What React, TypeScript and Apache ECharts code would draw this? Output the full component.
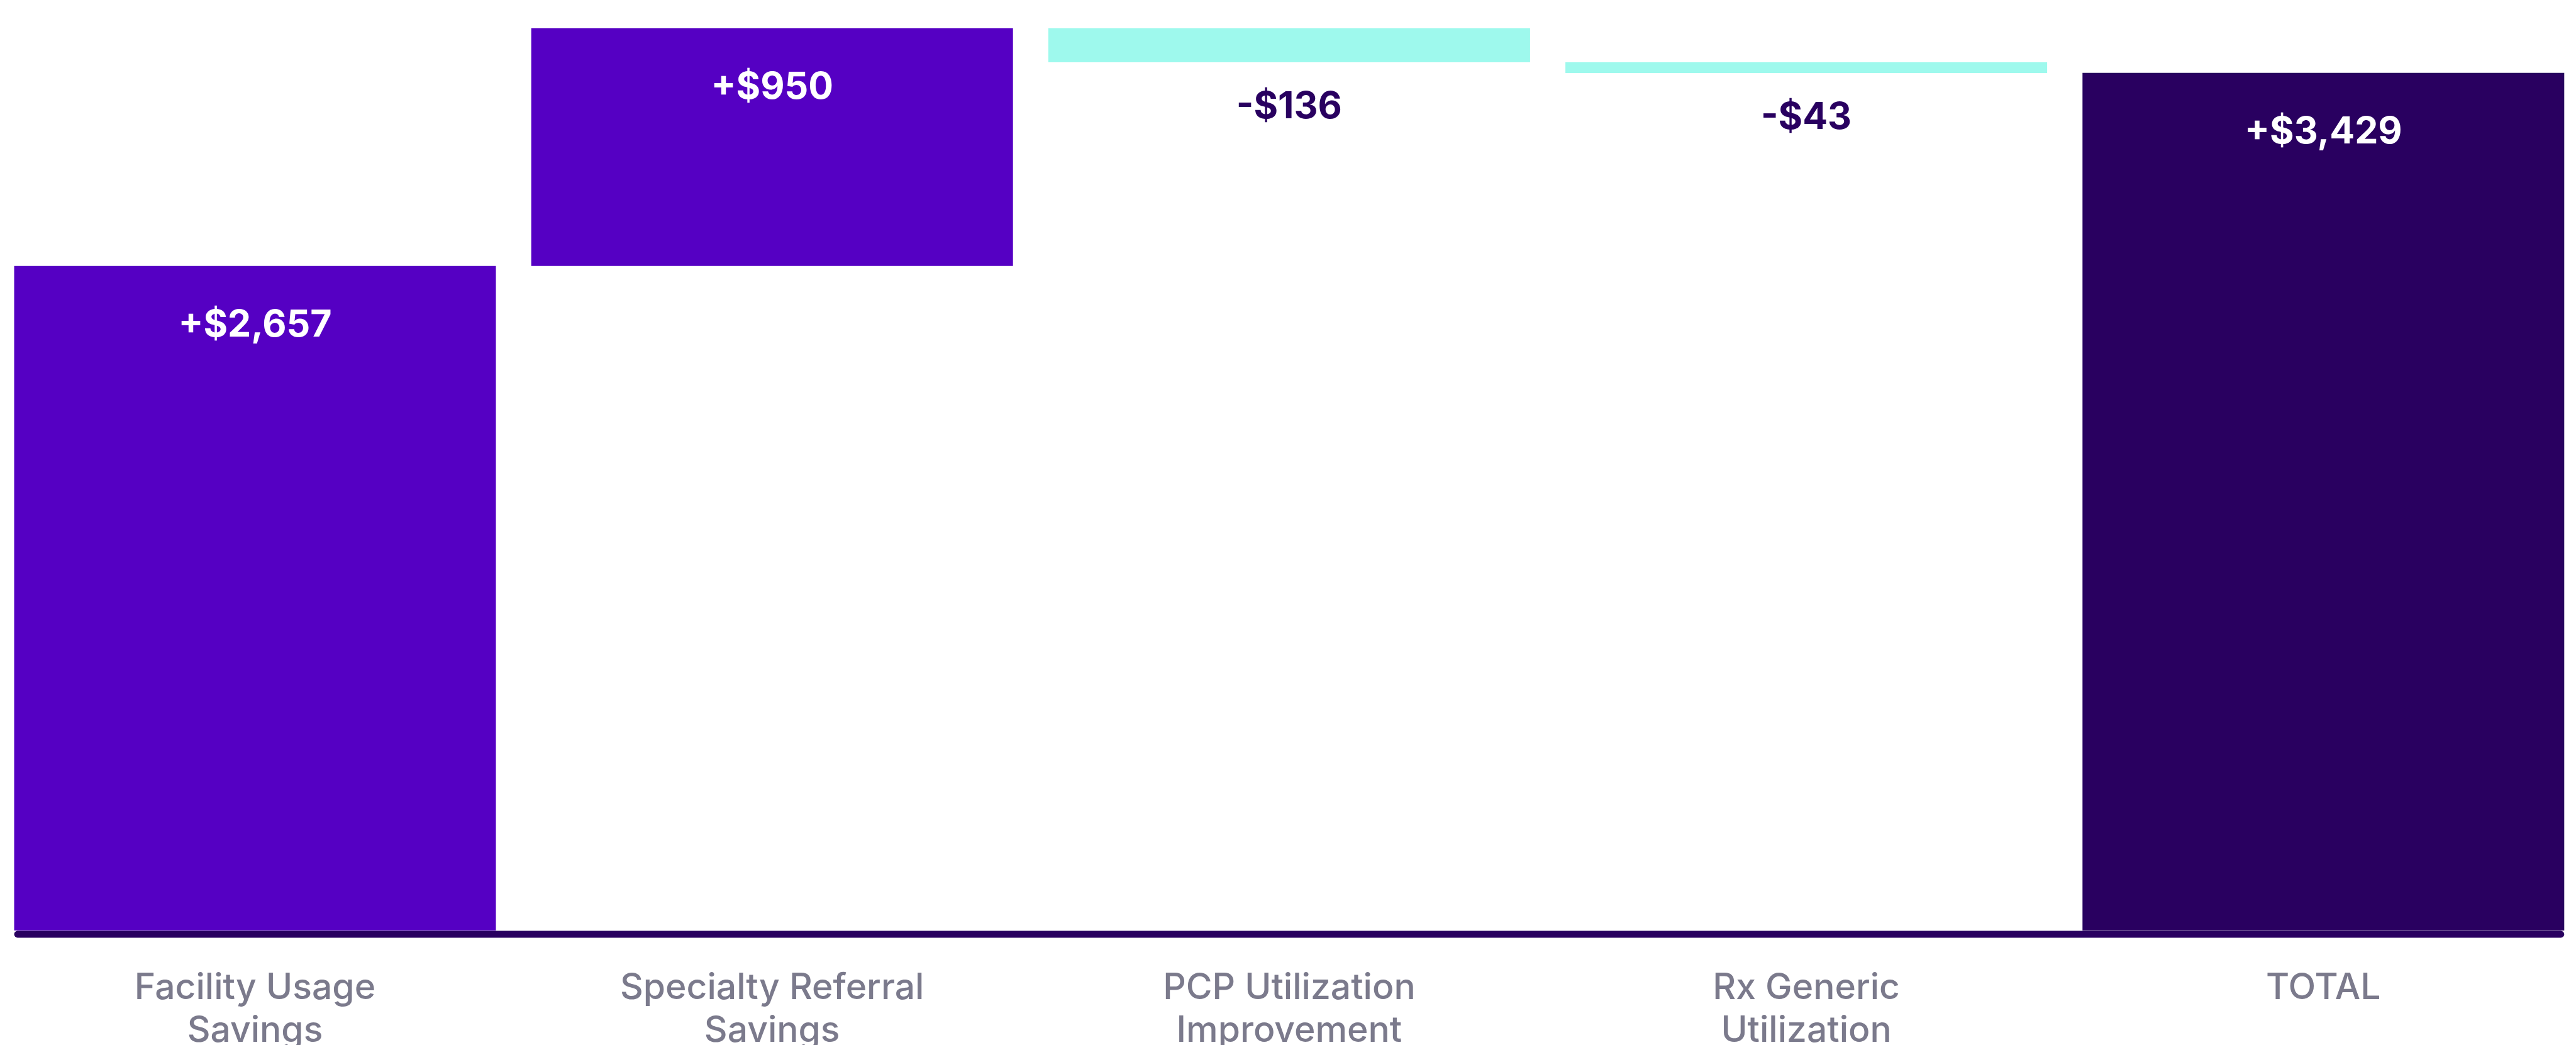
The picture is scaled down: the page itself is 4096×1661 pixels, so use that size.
import React, { useEffect, useRef } from "react";
import * as echarts from "echarts";

const categories = [
  "Facility Usage\nSavings",
  "Specialty Referral\nSavings",
  "PCP Utilization\nImprovement",
  "Rx Generic\nUtilization",
  "TOTAL",
];
const changes = [2657, 950, -136, -43];
const totalValue = 3429;
const yMax = 3720;

const COLOR_UP = "#5500C3";
const COLOR_DOWN = "#9EF9ED";
const COLOR_TOTAL = "#290060";
const COLOR_DARK_TEXT = "#290060";
const COLOR_AXIS_TEXT = "#7B7A8C";

const W = 4096;
const H = 1661;
const BAR_WIDTH = 766;

const fmt = (v: number) =>
  (v >= 0 ? "+" : "-") + "$" + Math.abs(v).toLocaleString("en-US");

export default function App() {
  const ref = useRef<HTMLDivElement>(null);
  useEffect(() => {
    document.body.style.margin = "0";
    const chart = echarts.init(ref.current!, undefined, { renderer: "svg" });

    const base: number[] = [];
    const heights: number[] = [];
    const signed: number[] = [];
    let running = 0;
    changes.forEach((v) => {
      if (v >= 0) {
        base.push(running);
        heights.push(v);
        running += v;
      } else {
        running += v;
        base.push(running);
        heights.push(-v);
      }
      signed.push(v);
    });
    base.push(0);
    heights.push(totalValue);
    signed.push(totalValue);

    const valueData = heights.map((h, i) => {
      const isTotal = i === heights.length - 1;
      const v = signed[i];
      const neg = v < 0;
      return {
        value: h,
        itemStyle: { color: isTotal ? COLOR_TOTAL : neg ? COLOR_DOWN : COLOR_UP },
        label: {
          show: true,
          position: neg ? "bottom" : "insideTop",
          distance: neg ? 38 : 61,
          color: neg ? COLOR_DARK_TEXT : "#FFFFFF",
          formatter: fmt(v),
          fontFamily: "Inter",
          fontWeight: 700,
          fontSize: 59,
          lineHeight: 59,
        },
      };
    });

    chart.setOption({
      animation: false,
      grid: {
        left: -5.6,
        right: -9.4,
        top: 0,
        bottom: 182,
        containLabel: false,
        outerBoundsMode: "none",
      },
      xAxis: {
        type: "category",
        data: categories,
        axisLine: { show: false },
        axisTick: { show: false },
        axisLabel: {
          margin: 54,
          color: COLOR_AXIS_TEXT,
          fontFamily: "Inter",
          fontWeight: 500,
          fontSize: 57,
          lineHeight: 68,
          interval: 0,
        },
      },
      yAxis: {
        type: "value",
        min: 0,
        max: yMax,
        show: false,
        splitLine: { show: false },
      },
      series: [
        {
          type: "bar",
          stack: "wf",
          data: base,
          barWidth: BAR_WIDTH,
          itemStyle: { color: "transparent" },
          silent: true,
          label: { show: false },
        },
        {
          type: "bar",
          stack: "wf",
          data: valueData,
          barWidth: BAR_WIDTH,
        },
      ],
    });

    const firstX = chart.convertToPixel({ xAxisIndex: 0 }, categories[0]) as number;
    const lastX = chart.convertToPixel(
      { xAxisIndex: 0 },
      categories[categories.length - 1]
    ) as number;
    const zeroY = chart.convertToPixel({ yAxisIndex: 0 }, 0) as number;
    const lw = 10.8;
    chart.setOption({
      graphic: [
        {
          type: "line",
          shape: {
            x1: firstX - BAR_WIDTH / 2 + lw / 2,
            y1: zeroY + 6,
            x2: lastX + BAR_WIDTH / 2 - lw / 2,
            y2: zeroY + 6,
          },
          style: { stroke: COLOR_TOTAL, lineWidth: lw, lineCap: "round" },
          z: 10,
        },
      ],
    });

    return () => chart.dispose();
  }, []);
  return (
    <div
      ref={ref}
      style={{ position: "fixed", left: 0, top: 0, width: W, height: H }}
    />
  );
}
